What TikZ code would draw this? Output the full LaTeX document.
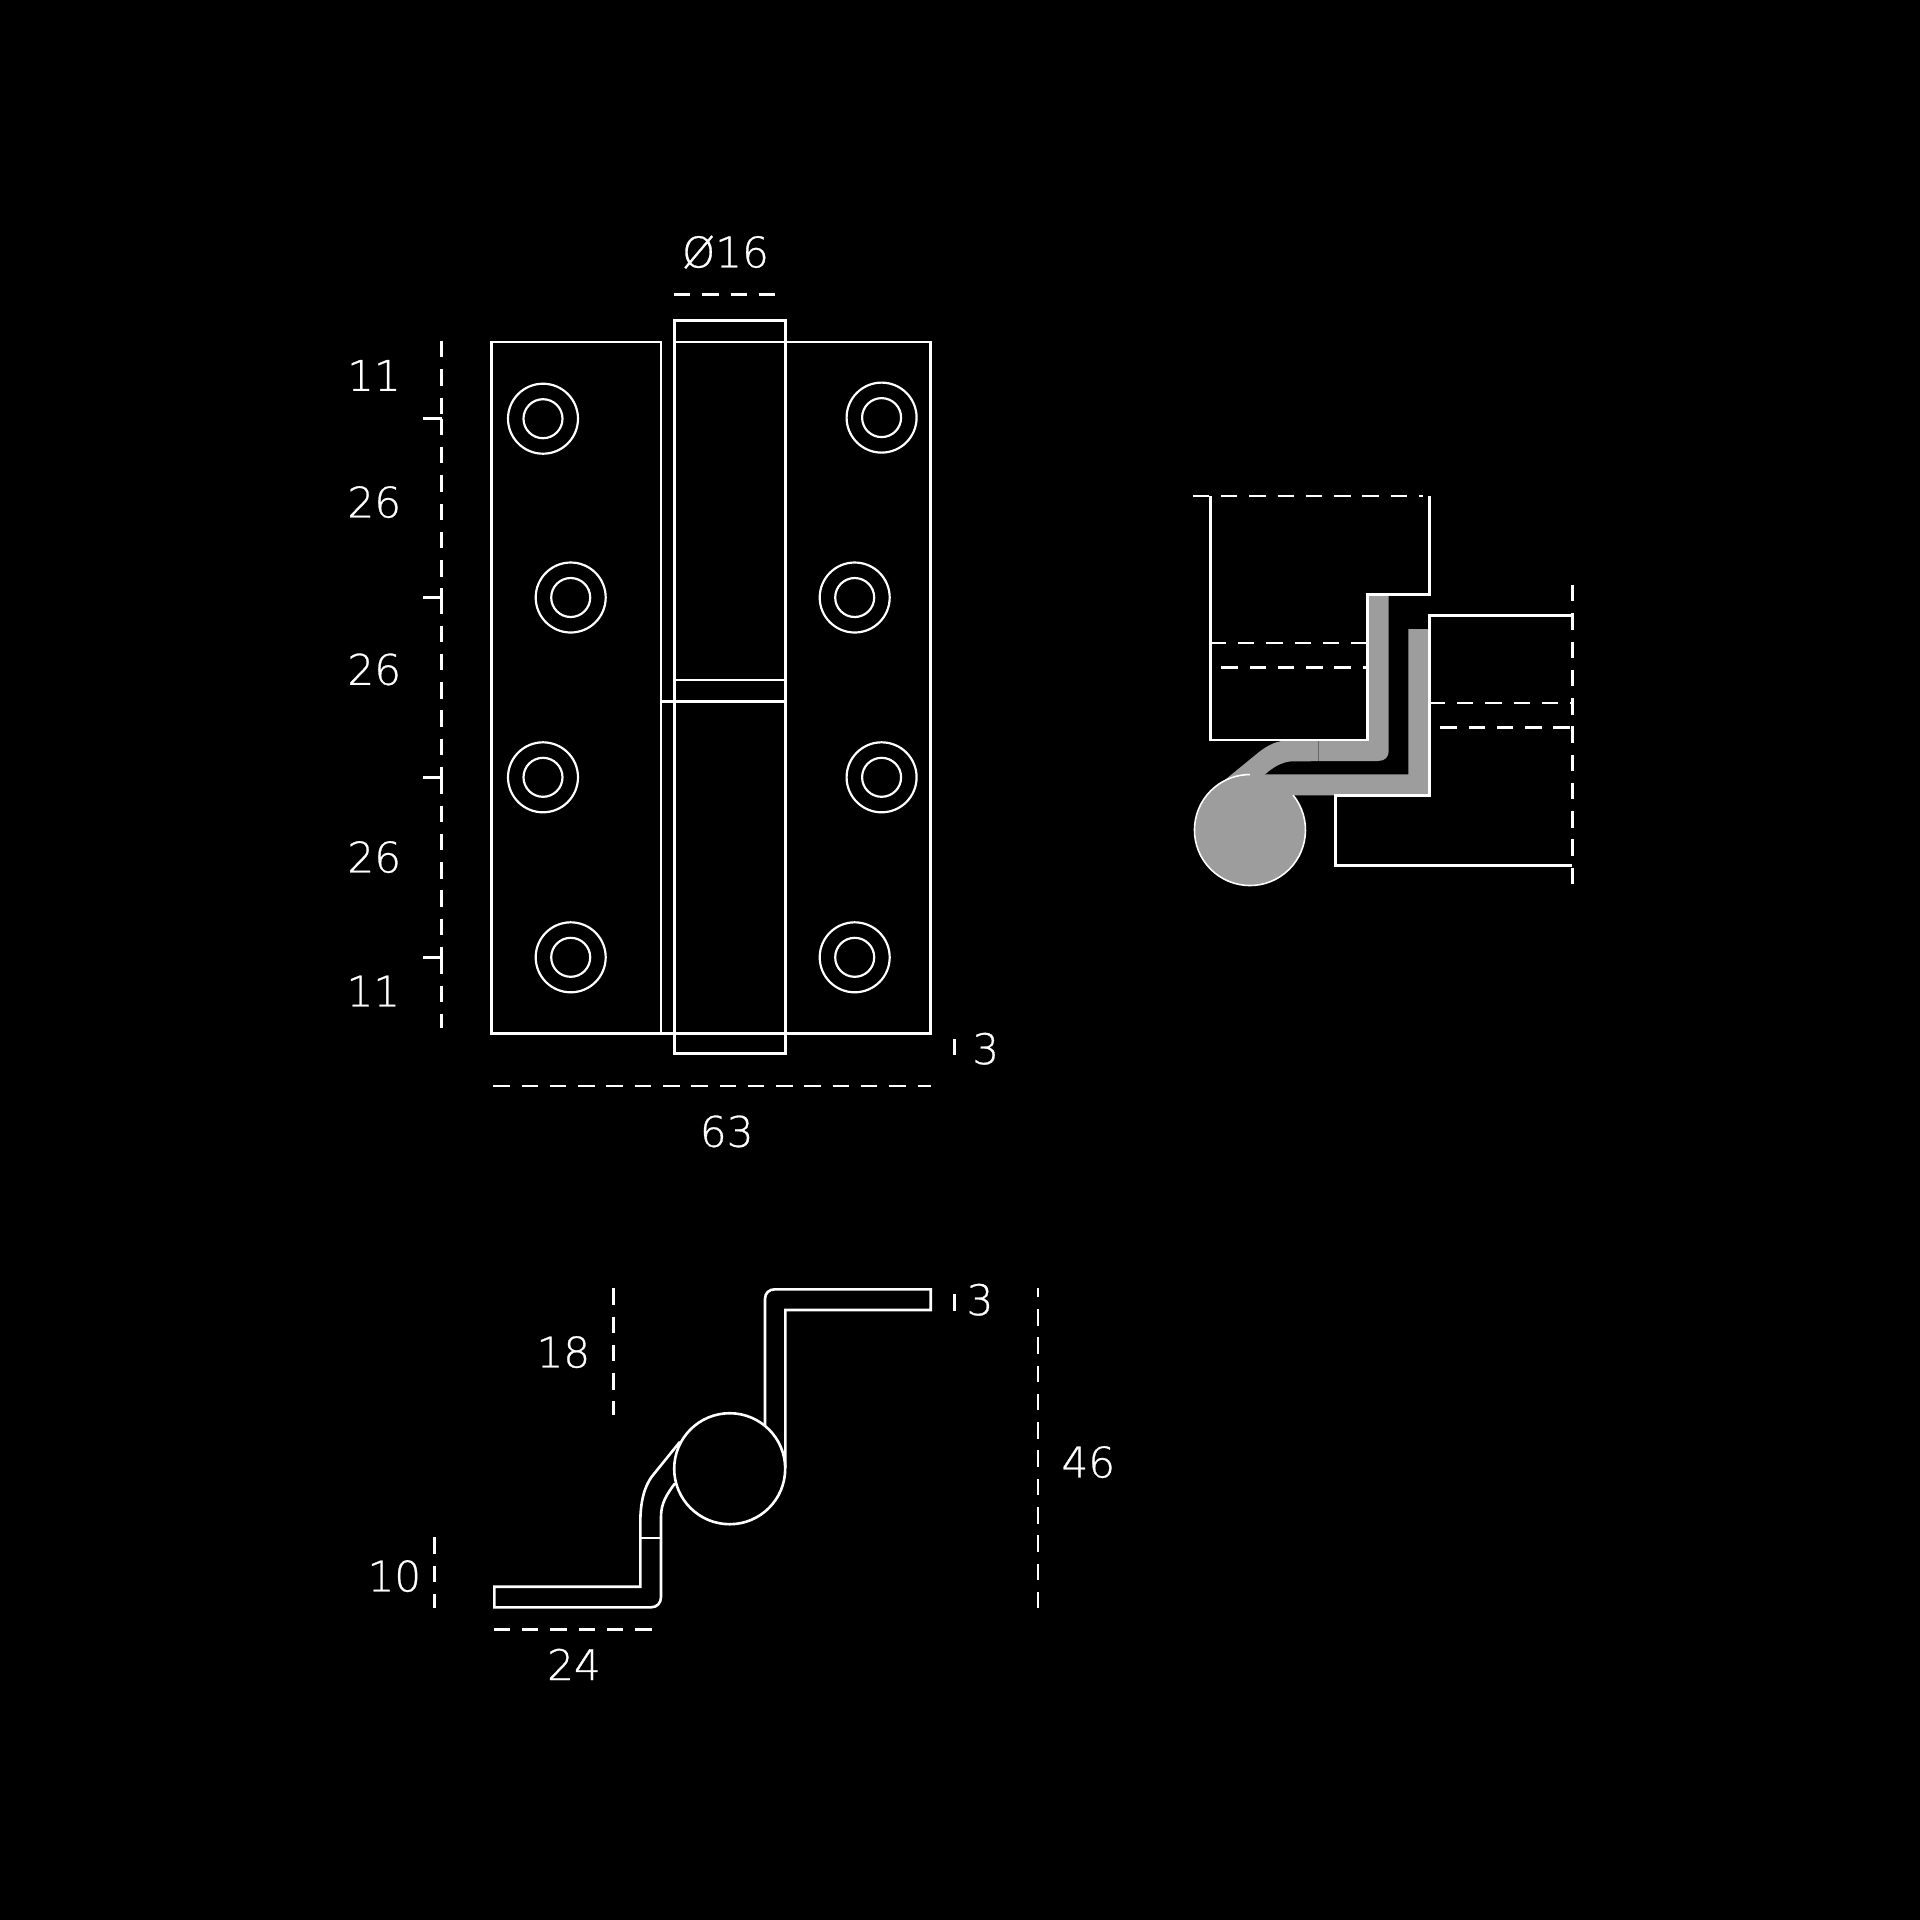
\documentclass[tikz,border=0pt]{standalone}
\usepackage{fontspec}
\newfontfamily\dimfont[FakeBold=0.7]{DejaVu Sans ExtraLight}
\definecolor{steelgray}{HTML}{9D9D9D}
\tikzset{
  part/.style={white, line width=.74pt, line join=miter},
  holeline/.style={white, line width=.62pt},
  dimline/.style={white, line width=.74pt, dash pattern=on 4.68pt off 3.36pt},
  dimtick/.style={white, line width=.74pt},
  dimlabel/.style={white, inner sep=0pt, yshift=-0.004cm, font=\dimfont\fontsize{12pt}{14pt}\selectfont},
}
\begin{document}
\begin{tikzpicture}[x=0.01cm, y=-0.01cm]
  \fill[black] (0, 0) rectangle (1920, 1920);

  \draw[part] (491.5, 342) rectangle (661, 1033.3);
  \draw[part] (674.3, 320.3) rectangle (785.5, 1053.7);
  \draw[part] (674.3, 342) -- (930.7, 342) -- (930.7, 1033.3) -- (661, 1033.3);
  \draw[part] (674.3, 680) -- (785.5, 680);
  \draw[part] (661, 701.3) -- (785.5, 701.3);
  \foreach \hx/\hy in {543/418.7, 570.7/597.5, 543/777.3, 570.7/957.3, 881.6/417.6, 854.7/597.5, 881.6/777.3, 854.7/957.3} {
    \draw[holeline] (\hx, \hy) circle (35);
    \draw[holeline] (\hx, \hy) circle (19.5);
  }
  \foreach \ya/\yb in {341/418.7, 418.7/597.3, 597.3/777.3, 777.3/957.3, 957.3/1028.3} {
    \draw[dimline] (441.7, \ya) -- (441.7, \yb);
  }
  \foreach \ty in {418.7, 597.3, 777.3, 957.3} {
    \draw[dimtick] (423.3, \ty) -- (441.7, \ty);
  }
  \draw[dimline] (674, 294.3) -- (775, 294.3);
  \draw[dimline] (493.4, 1086) -- (930.7, 1086);
  \draw[dimtick] (954.3, 1039) -- (954.3, 1055);
  \node[dimlabel] (pindia) at (725.5, 251.7) {Ø16};
  \node[dimlabel] (topgap) at (374, 375) {11};
  \node[dimlabel] (pitcha) at (374.3, 501.7) {26};
  \node[dimlabel] (pitchb) at (374.3, 669) {26};
  \node[dimlabel] (pitchc) at (374.3, 856.7) {26};
  \node[dimlabel] (botgap) at (373.3, 990.7) {11};
  \node[dimlabel] (leafthick) at (985.7, 1048.3) {3};
  \node[dimlabel] (totalwidth) at (726.7, 1131) {63};

  \fill[steelgray] (1250, 830) circle (55.5);
  \fill[steelgray] (1250, 774.4) -- (1408.3, 774.4) -- (1408.3, 629) -- (1429, 629) -- (1429, 795.4) -- (1292, 795.4) -- cycle;
  \fill[steelgray] (1367, 594.7) -- (1388.7, 594.7) -- (1388.7, 751) .. controls (1388.7, 757) and (1385, 761) .. (1378, 761)
    -- (1291.7, 761.3) .. controls (1282, 762) and (1273, 767) .. (1265, 774.5) -- (1215, 788) -- (1259, 752)
    .. controls (1268, 745) and (1277, 740.5) .. (1290, 740) -- (1367, 740) -- cycle;
  \draw[black!60, line width=.3pt] (1318.7, 741) -- (1318.7, 761);
  \draw[white, line width=.45pt] (1293.1, 795.1) arc[start angle=-39, end angle=270, radius=55.5];
  \draw[part] (1210.7, 496) -- (1210.7, 740) -- (1367.3, 740) -- (1367.3, 594.7) -- (1429.3, 594.7) -- (1429.3, 496);
  \draw[part] (1572.3, 615.3) -- (1429.3, 615.3) -- (1429.3, 795.7) -- (1335.5, 795.7) -- (1335.5, 865.3) -- (1572.3, 865.3);
  \draw[dimline] (1192.7, 496) -- (1423.3, 496);
  \draw[dimline] (1209.7, 643) -- (1367, 643);
  \draw[dimline] (1221.3, 667.3) -- (1367, 667.3);
  \draw[dimline] (1428.7, 703) -- (1572.3, 703);
  \draw[dimline] (1440.3, 727.3) -- (1572.3, 727.3);
  \draw[dimline] (1572.3, 585) -- (1572.3, 884);

  \draw[part] (729.7, 1468.7) circle (55.5);
  \draw[part] (785.3, 1468) -- (785.3, 1310) -- (930.7, 1310) -- (930.7, 1289.3) -- (775, 1289.3)
    .. controls (769, 1289.3) and (765, 1293) .. (765, 1299) -- (765, 1425);
  \draw[part] (680, 1441.7) -- (651.7, 1476.7) .. controls (645, 1486) and (640.3, 1500) .. (640.3, 1523)
    -- (640.3, 1586.7) -- (494.3, 1586.7) -- (494.3, 1607.3) -- (651, 1607.3)
    .. controls (657, 1607.3) and (661, 1603) .. (661, 1597) -- (661, 1516.7)
    .. controls (661, 1503) and (667, 1494) .. (675, 1483.3);
  \draw[part] (640.3, 1538) -- (661, 1538);
  \draw[dimline] (613.7, 1288.3) -- (613.7, 1415);
  \draw[dimline] (434.7, 1537.3) -- (434.7, 1608.3);
  \draw[dimline] (493.7, 1629.3) -- (651.7, 1629.3);
  \draw[dimline] (1038, 1608.3) -- (1038, 1288.3);
  \draw[dimtick] (954.3, 1294) -- (954.3, 1310.7);
  \node[dimlabel] (pinrise) at (563.3, 1351.7) {18};
  \node[dimlabel] (flangedrop) at (394.3, 1575.7) {10};
  \node[dimlabel] (flangewidth) at (574, 1664) {24};
  \node[dimlabel] (flangethick) at (980, 1299.3) {3};
  \node[dimlabel] (totaldepth) at (1088.3, 1461.7) {46};
\end{tikzpicture}
\end{document}
